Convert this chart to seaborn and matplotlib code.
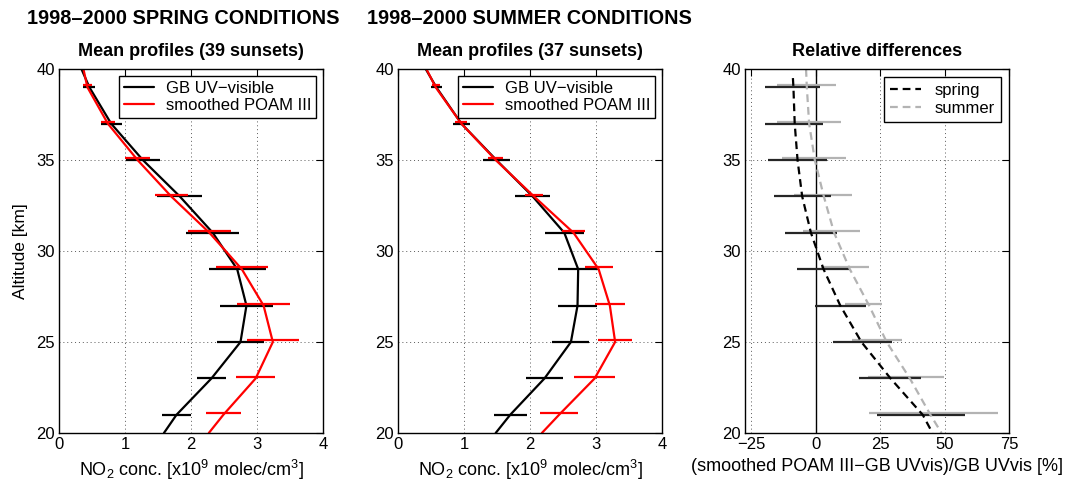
import pandas as pd
import seaborn as sns
import matplotlib.pyplot as plt

# Altitude grid of the profiles and of the error bars [km]
alt_line = [40, 39, 37, 35, 33, 31, 29, 27, 25, 23, 21, 20]
alt_bars = [39, 37, 35, 33, 31, 29, 27, 25, 23, 21]

# Mean NO2 profiles [x10^9 molec/cm3]
spring_gb = [0.34, 0.46, 0.79, 1.27, 1.83, 2.33, 2.70, 2.84, 2.75, 2.31, 1.78, 1.59]
spring_poam = [0.37, 0.43, 0.74, 1.19, 1.70, 2.28, 2.77, 3.10, 3.24, 2.98, 2.49, 2.27]
spring_gb_err = [0.09, 0.16, 0.26, 0.34, 0.40, 0.43, 0.40, 0.36, 0.22, 0.22]
spring_poam_err = [0.07, 0.11, 0.19, 0.25, 0.32, 0.39, 0.40, 0.39, 0.30, 0.27]

summer_gb = [0.42, 0.58, 0.96, 1.49, 2.04, 2.52, 2.73, 2.72, 2.62, 2.22, 1.70, 1.48]
summer_poam = [0.43, 0.57, 0.96, 1.48, 2.06, 2.66, 3.04, 3.21, 3.29, 2.98, 2.44, 2.18]
summer_gb_err = [0.08, 0.13, 0.20, 0.27, 0.30, 0.30, 0.29, 0.28, 0.28, 0.25]
summer_poam_err = [0.06, 0.09, 0.11, 0.14, 0.17, 0.21, 0.23, 0.26, 0.31, 0.29]

# Relative differences [%]
alt_rel_spring = [39.5, 39, 37, 35, 33, 31, 29, 27, 25, 23, 21, 20]
rel_spring = [-8.9, -8.7, -8.2, -7.1, -5.3, -1.9, 3.0, 9.5, 17.7, 29.0, 41.5, 45.3]
rel_spring_mid = [-9.0, -8.5, -7.1, -5.3, -1.9, 3.0, 9.5, 18.1, 28.8, 40.8]
rel_spring_err = [10.8, 11.3, 11.5, 11.0, 10.2, 10.3, 9.9, 11.4, 12.0, 17.0]

rel_summer = [-3.8, -3.5, -2.6, -0.4, 3.1, 7.1, 13.2, 20.7, 27.5, 36.5, 44.5, 48.8]
rel_summer_mid = [-3.6, -2.7, -0.6, 2.9, 6.2, 11.4, 18.5, 23.8, 35.1, 45.8]
rel_summer_err = [11.4, 12.3, 12.5, 11.3, 11.1, 9.2, 7.0, 9.7, 14.8, 25.0]

sns.set_style('white')
plt.rcParams['font.family'] = ['Liberation Sans', 'DejaVu Sans']
plt.rcParams['mathtext.fontset'] = 'custom'
plt.rcParams['mathtext.rm'] = 'Liberation Sans'
plt.rcParams['mathtext.it'] = 'Liberation Sans:italic'
plt.rcParams['axes.edgecolor'] = 'black'
plt.rcParams['axes.linewidth'] = 1.0
plt.rcParams['text.color'] = 'black'
plt.rcParams['axes.labelcolor'] = 'black'
plt.rcParams['xtick.color'] = 'black'
plt.rcParams['ytick.color'] = 'black'
plt.rcParams['xtick.labelcolor'] = 'black'
plt.rcParams['ytick.labelcolor'] = 'black'

fig = plt.figure(figsize=(10.65, 4.87), dpi=100)
lefts = [59, 398, 745]
axes = [fig.add_axes([l / 1065, 54 / 487, 264 / 1065, 364 / 487]) for l in lefts]

LW = 1.6
SHIFT = 0.1  # the second data set is drawn slightly above


def style(ax, xlim, xticks):
    ax.set_xlim(*xlim)
    ax.set_ylim(20, 40)
    ax.set_xticks(xticks)
    ax.set_yticks([20, 25, 30, 35, 40])
    ax.grid(True, linestyle=(0, (1, 3)), color='0.35', linewidth=0.7)
    ax.tick_params(direction='in', top=True, right=True, length=5, width=0.8,
                   labelsize=12, pad=3, colors='black')
    for s in ax.spines.values():
        s.set_visible(True)
        s.set_color('black')


def profile_panel(ax, gb, poam, gb_err, poam_err, title):
    gb_mid = dict(zip(alt_line, gb))
    poam_mid = dict(zip(alt_line, poam))
    sns.lineplot(x=gb, y=alt_line, sort=False, estimator=None, color='black',
                 lw=LW, ax=ax, label='GB UV\u2212visible')
    ax.hlines(alt_bars, [gb_mid[a] - e for a, e in zip(alt_bars, gb_err)],
              [gb_mid[a] + e for a, e in zip(alt_bars, gb_err)], color='black', lw=LW)
    sns.lineplot(x=poam, y=alt_line, sort=False, estimator=None, color='red',
                 lw=LW, ax=ax, label='smoothed POAM III')
    ax.hlines([a + SHIFT for a in alt_bars],
              [poam_mid[a] - e for a, e in zip(alt_bars, poam_err)],
              [poam_mid[a] + e for a, e in zip(alt_bars, poam_err)], color='red', lw=LW)
    style(ax, (0, 4), [0, 1, 2, 3, 4])
    ax.set_title(title, fontsize=13, fontweight='bold', pad=9, color='black')
    ax.set_xlabel('NO$_2$ conc. [x10$^9$ molec/cm$^3$]', fontsize=13, labelpad=4)
    ax.set_ylabel('')
    leg = ax.legend(loc='upper right', fontsize=12, frameon=True, fancybox=False,
                    edgecolor='black', framealpha=1, borderaxespad=0.4,
                    handlelength=1.8, handletextpad=0.7, labelspacing=0.15,
                    borderpad=0.3)
    leg.get_frame().set_linewidth(1.0)


profile_panel(axes[0], spring_gb, spring_poam, spring_gb_err, spring_poam_err,
              'Mean profiles (39 sunsets)')
profile_panel(axes[1], summer_gb, summer_poam, summer_gb_err, summer_poam_err,
              'Mean profiles (37 sunsets)')
axes[0].set_ylabel('Altitude [km]', fontsize=12.5, labelpad=6)

# Relative differences panel
ax = axes[2]
gray = '0.7'
dash = (0, (3.5, 2.2))
ax.axvline(0, color='black', lw=1.0, zorder=1)
ax.hlines([a + SHIFT for a in alt_bars],
          [m - e for m, e in zip(rel_summer_mid, rel_summer_err)],
          [m + e for m, e in zip(rel_summer_mid, rel_summer_err)], color=gray, lw=LW)
ax.hlines(alt_bars, [m - e for m, e in zip(rel_spring_mid, rel_spring_err)],
          [m + e for m, e in zip(rel_spring_mid, rel_spring_err)], color='0.15', lw=LW)
sns.lineplot(x=rel_spring, y=alt_rel_spring, sort=False, estimator=None, color='black',
             lw=LW, linestyle=dash, ax=ax, label='spring')
sns.lineplot(x=rel_summer, y=alt_line, sort=False, estimator=None, color=gray,
             lw=LW, linestyle=dash, ax=ax, label='summer')
style(ax, (-27.5, 75), [-25, 0, 25, 50, 75])
ax.set_xticklabels(['\u221225', '0', '25', '50', '75'])
ax.set_title('Relative differences', fontsize=13, fontweight='bold', pad=9, color='black')
ax.set_xlabel('(smoothed POAM III\u2212GB UVvis)/GB UVvis [%]', fontsize=13, labelpad=4)
ax.set_ylabel('')
leg = ax.legend(loc='upper right', fontsize=12, frameon=True, fancybox=False,
                edgecolor='black', framealpha=1, borderaxespad=0.5,
                handlelength=1.9, handletextpad=0.8, labelspacing=0.15, borderpad=0.35)
leg.get_frame().set_linewidth(1.0)

fig.text(27 / 1065, 1 - 18 / 487, '1998\u20132000 SPRING CONDITIONS', fontsize=14.3,
         fontweight='bold', va='center', ha='left', color='black')
fig.text(367 / 1065, 1 - 18 / 487, '1998\u20132000 SUMMER CONDITIONS', fontsize=14.3,
         fontweight='bold', va='center', ha='left', color='black')

fig.savefig('out.png', dpi=100)
